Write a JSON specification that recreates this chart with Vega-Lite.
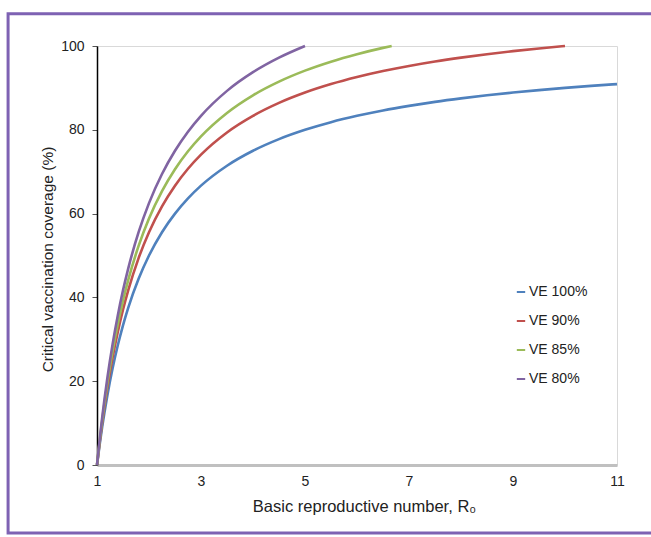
{
  "$schema": "https://vega.github.io/schema/vega-lite/v6.json",
  "autosize": "none",
  "width": 520,
  "height": 419,
  "padding": {"left": 97, "top": 46, "right": 34, "bottom": 72},
  "background": "white",
  "config": {
    "font": "Liberation Sans",
    "view": {"stroke": "#d9d9d9", "strokeWidth": 1}
  },
  "datasets": {
    "curves": [
      {"R0": 1, "v": 0, "s": "VE 100%"}, {"R0": 1.05, "v": 4.76, "s": "VE 100%"}, {"R0": 1.1, "v": 9.09, "s": "VE 100%"}, {"R0": 1.2, "v": 16.67, "s": "VE 100%"}, {"R0": 1.3, "v": 23.08, "s": "VE 100%"}, {"R0": 1.4, "v": 28.57, "s": "VE 100%"}, {"R0": 1.5, "v": 33.33, "s": "VE 100%"}, {"R0": 1.6, "v": 37.5, "s": "VE 100%"}, {"R0": 1.8, "v": 44.44, "s": "VE 100%"}, {"R0": 2, "v": 50, "s": "VE 100%"}, {"R0": 2.25, "v": 55.56, "s": "VE 100%"}, {"R0": 2.5, "v": 60, "s": "VE 100%"}, {"R0": 2.75, "v": 63.64, "s": "VE 100%"}, {"R0": 3, "v": 66.67, "s": "VE 100%"}, {"R0": 3.5, "v": 71.43, "s": "VE 100%"}, {"R0": 4, "v": 75, "s": "VE 100%"}, {"R0": 4.5, "v": 77.78, "s": "VE 100%"}, {"R0": 5, "v": 80, "s": "VE 100%"}, {"R0": 5.5, "v": 81.82, "s": "VE 100%"}, {"R0": 6, "v": 83.33, "s": "VE 100%"}, {"R0": 6.5, "v": 84.62, "s": "VE 100%"}, {"R0": 7, "v": 85.71, "s": "VE 100%"}, {"R0": 7.5, "v": 86.67, "s": "VE 100%"}, {"R0": 8, "v": 87.5, "s": "VE 100%"}, {"R0": 8.5, "v": 88.24, "s": "VE 100%"}, {"R0": 9, "v": 88.89, "s": "VE 100%"}, {"R0": 9.5, "v": 89.47, "s": "VE 100%"}, {"R0": 10, "v": 90, "s": "VE 100%"}, {"R0": 10.5, "v": 90.48, "s": "VE 100%"}, {"R0": 11, "v": 90.91, "s": "VE 100%"},
      {"R0": 1, "v": 0, "s": "VE 90%"}, {"R0": 1.05, "v": 5.29, "s": "VE 90%"}, {"R0": 1.1, "v": 10.1, "s": "VE 90%"}, {"R0": 1.2, "v": 18.52, "s": "VE 90%"}, {"R0": 1.3, "v": 25.64, "s": "VE 90%"}, {"R0": 1.4, "v": 31.75, "s": "VE 90%"}, {"R0": 1.5, "v": 37.04, "s": "VE 90%"}, {"R0": 1.6, "v": 41.67, "s": "VE 90%"}, {"R0": 1.8, "v": 49.38, "s": "VE 90%"}, {"R0": 2, "v": 55.56, "s": "VE 90%"}, {"R0": 2.25, "v": 61.73, "s": "VE 90%"}, {"R0": 2.5, "v": 66.67, "s": "VE 90%"}, {"R0": 2.75, "v": 70.71, "s": "VE 90%"}, {"R0": 3, "v": 74.07, "s": "VE 90%"}, {"R0": 3.5, "v": 79.37, "s": "VE 90%"}, {"R0": 4, "v": 83.33, "s": "VE 90%"}, {"R0": 4.5, "v": 86.42, "s": "VE 90%"}, {"R0": 5, "v": 88.89, "s": "VE 90%"}, {"R0": 5.5, "v": 90.91, "s": "VE 90%"}, {"R0": 6, "v": 92.59, "s": "VE 90%"}, {"R0": 6.5, "v": 94.02, "s": "VE 90%"}, {"R0": 7, "v": 95.24, "s": "VE 90%"}, {"R0": 7.5, "v": 96.3, "s": "VE 90%"}, {"R0": 8, "v": 97.22, "s": "VE 90%"}, {"R0": 8.5, "v": 98.04, "s": "VE 90%"}, {"R0": 9, "v": 98.77, "s": "VE 90%"}, {"R0": 9.5, "v": 99.42, "s": "VE 90%"}, {"R0": 10, "v": 100, "s": "VE 90%"},
      {"R0": 1, "v": 0, "s": "VE 85%"}, {"R0": 1.05, "v": 5.6, "s": "VE 85%"}, {"R0": 1.1, "v": 10.7, "s": "VE 85%"}, {"R0": 1.2, "v": 19.61, "s": "VE 85%"}, {"R0": 1.3, "v": 27.15, "s": "VE 85%"}, {"R0": 1.4, "v": 33.61, "s": "VE 85%"}, {"R0": 1.5, "v": 39.22, "s": "VE 85%"}, {"R0": 1.6, "v": 44.12, "s": "VE 85%"}, {"R0": 1.8, "v": 52.29, "s": "VE 85%"}, {"R0": 2, "v": 58.82, "s": "VE 85%"}, {"R0": 2.25, "v": 65.36, "s": "VE 85%"}, {"R0": 2.5, "v": 70.59, "s": "VE 85%"}, {"R0": 2.75, "v": 74.87, "s": "VE 85%"}, {"R0": 3, "v": 78.43, "s": "VE 85%"}, {"R0": 3.5, "v": 84.03, "s": "VE 85%"}, {"R0": 4, "v": 88.24, "s": "VE 85%"}, {"R0": 4.5, "v": 91.5, "s": "VE 85%"}, {"R0": 5, "v": 94.12, "s": "VE 85%"}, {"R0": 5.5, "v": 96.26, "s": "VE 85%"}, {"R0": 6, "v": 98.04, "s": "VE 85%"}, {"R0": 6.5, "v": 99.55, "s": "VE 85%"}, {"R0": 6.667, "v": 100, "s": "VE 85%"},
      {"R0": 1, "v": 0, "s": "VE 80%"}, {"R0": 1.05, "v": 5.95, "s": "VE 80%"}, {"R0": 1.1, "v": 11.36, "s": "VE 80%"}, {"R0": 1.2, "v": 20.83, "s": "VE 80%"}, {"R0": 1.3, "v": 28.85, "s": "VE 80%"}, {"R0": 1.4, "v": 35.71, "s": "VE 80%"}, {"R0": 1.5, "v": 41.67, "s": "VE 80%"}, {"R0": 1.6, "v": 46.88, "s": "VE 80%"}, {"R0": 1.8, "v": 55.56, "s": "VE 80%"}, {"R0": 2, "v": 62.5, "s": "VE 80%"}, {"R0": 2.25, "v": 69.44, "s": "VE 80%"}, {"R0": 2.5, "v": 75, "s": "VE 80%"}, {"R0": 2.75, "v": 79.55, "s": "VE 80%"}, {"R0": 3, "v": 83.33, "s": "VE 80%"}, {"R0": 3.5, "v": 89.29, "s": "VE 80%"}, {"R0": 4, "v": 93.75, "s": "VE 80%"}, {"R0": 4.5, "v": 97.22, "s": "VE 80%"}, {"R0": 5, "v": 100, "s": "VE 80%"}
    ],
    "frame": [{"x1": -0.71, "x2": 13, "y1": 107.7, "y2": -16.2}]
  },
  "layer": [
    {
      "data": {"name": "frame"},
      "mark": {"type": "rect", "fill": "transparent", "stroke": "#7E62B3", "strokeWidth": 3},
      "encoding": {
        "x": {"field": "x1", "type": "quantitative", "scale": {"domain": [1, 11], "nice": false, "zero": false}},
        "x2": {"field": "x2"},
        "y": {"field": "y1", "type": "quantitative", "scale": {"domain": [0, 100], "nice": false}},
        "y2": {"field": "y2"}
      }
    },
    {
      "data": {"name": "curves"},
      "mark": {"type": "line", "strokeWidth": 2.6, "interpolate": "monotone"},
      "encoding": {
        "x": {
          "field": "R0", "type": "quantitative",
          "scale": {"domain": [1, 11], "nice": false, "zero": false},
          "axis": {
            "values": [1, 3, 5, 7, 9, 11],
            "title": "Basic reproductive number, R₀",
            "grid": false,
            "ticks": false,
            "labelFlush": false,
            "domainColor": "#c0c0c0",
            "domainWidth": 3,
            "labelFontSize": 14,
            "labelColor": "#222222",
            "labelPadding": 9,
            "titleFontSize": 16.5,
            "titleFontWeight": "normal",
            "titleColor": "#222222",
            "titlePadding": 10,
            "titleX": 267
          }
        },
        "y": {
          "field": "v", "type": "quantitative",
          "scale": {"domain": [0, 100], "nice": false},
          "axis": {
            "values": [0, 20, 40, 60, 80, 100],
            "title": "Critical vaccination coverage (%)",
            "grid": false,
            "labelFlush": false,
            "domainColor": "#000000",
            "domainWidth": 1.5,
            "tickColor": "#555555",
            "tickSize": 5,
            "labelFontSize": 14,
            "labelColor": "#222222",
            "labelPadding": 8,
            "titleFontSize": 15.5,
            "titleFontWeight": "normal",
            "titleColor": "#222222",
            "titlePadding": 5,
            "titleY": 213
          }
        },
        "color": {
          "field": "s", "type": "nominal",
          "scale": {
            "domain": ["VE 100%", "VE 90%", "VE 85%", "VE 80%"],
            "range": ["#4F81BD", "#C0504D", "#9BBB59", "#8064A2"]
          },
          "legend": {
            "title": null,
            "orient": "none",
            "legendX": 417,
            "legendY": 239,
            "symbolType": "stroke",
            "symbolSize": 70,
            "symbolStrokeWidth": 2,
            "labelFontSize": 14,
            "labelColor": "#222222",
            "labelOffset": 1,
            "rowPadding": 15
          }
        }
      }
    }
  ]
}
